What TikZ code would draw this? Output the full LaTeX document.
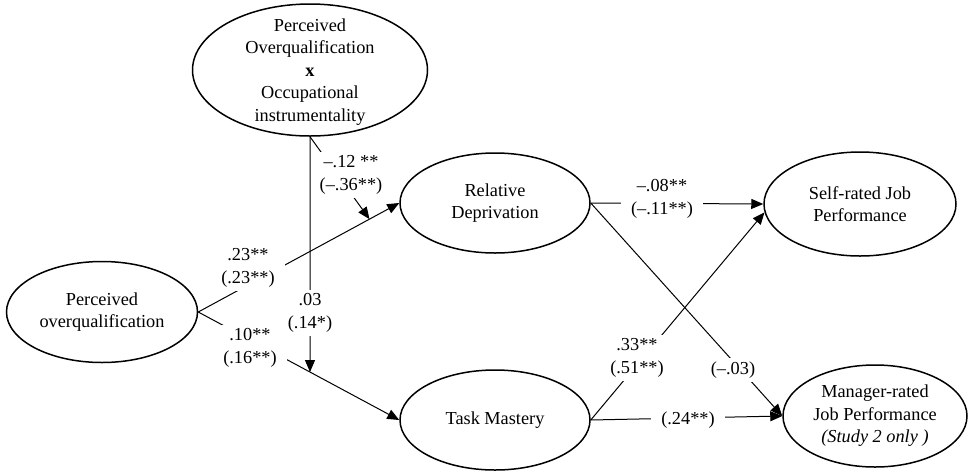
\documentclass[tikz,border=0pt]{standalone}
\usepackage{fontspec}
\setmainfont{Liberation Serif}
\usetikzlibrary{shapes.geometric,arrows.meta}

\tikzset{
  construct/.style={ellipse, draw, line width=1.5pt, inner sep=0pt, align=center},
  link/.style={line width=1pt, -{Triangle[length=12pt,width=10pt]}},
  coef/.style={fill=white, align=center, inner xsep=10pt, inner ysep=4pt},
}

\begin{document}
\begin{tikzpicture}[x=1pt, y=-1pt, font=\fontsize{18.3}{22.5}\selectfont]
    \useasboundingbox (0, 0) rectangle (968, 472);
    \node[construct, minimum width=235, minimum height=132] (mod) at (310, 70) {};
    \node[align=center] (modtext) at (310, 72) {Perceived\\Overqualification\\\textbf{x}\\Occupational\\instrumentality};
    \node[construct, minimum width=191, minimum height=101] (po) at (102, 312) {Perceived\\overqualification};
    \node[construct, minimum width=190, minimum height=100] (rd) at (495, 203) {Relative\\Deprivation};
    \node[construct, minimum width=190, minimum height=100] (tm) at (495, 420) {Task Mastery};
    \node[construct, minimum width=192, minimum height=104] (sr) at (860, 204) {Self-rated Job\\Performance};
    \node[construct, minimum width=184, minimum height=102] (me) at (875, 416) {Manager-rated\\Job Performance\\\textit{(Study 2 only )}};
    \draw[link] (po.east) -- coordinate[pos=0.852] (rdhit) (rd.west);
    \draw[link] (po.east) -- coordinate[pos=0.556] (tmhit) (tm.west);
    \draw[link] (mod.south) -- (rdhit);
    \draw[link] (mod.south) -- (tmhit);
    \draw[link] (rd.east) -- (sr.west);
    \draw[link] (rd.east) -- (me.west);
    \draw[link] (tm.east) -- (sr.185);
    \draw[link] (tm.east) -- (me.west);
    \node[coef] (b23) at (248, 268) {.23**\\(.23**)};
    \node[coef] (b10) at (250, 348) {.10**\\(.16**)};
    \node[coef] (b03) at (310, 313) {.03\\(.14*)};
    \node[coef, inner xsep=3pt] (b12) at (351, 175) {--.12 **\\(--.36**)};
    \node[coef] (b08) at (662, 199) {--.08**\\(--.11**)};
    \node[coef] (b33) at (637, 358) {.33**\\(.51**)};
    \node[coef] (b03m) at (733, 370) {(--.03)};
    \node[coef] (b24) at (688, 420) {(.24**)};
  \end{tikzpicture}
\end{document}
